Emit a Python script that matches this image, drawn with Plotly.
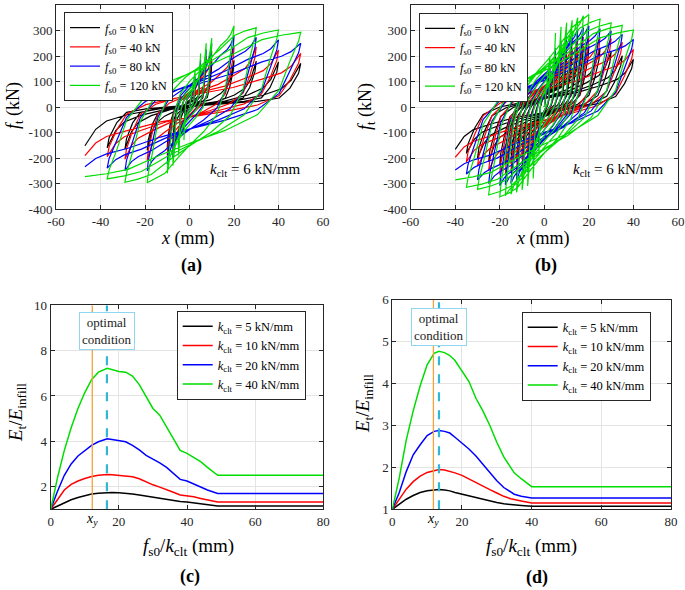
import plotly.graph_objects as go

# ---------------- Panel (a): cyclic test, peaks of each cycle ----------------
A_XP = [2.5, 5, 7.5, 10, 20, 30, 40, 50]
A_XN = [-2.5, -5, -7.5, -10, -19, -29, -37, -47]
A_FP_0 = [100, 150, 170, 180, 183, 180, 177, 171]
A_FP_40 = [110, 170, 200, 220, 236, 236, 223, 210]
A_FP_80 = [120, 185, 225, 250, 278, 273, 263, 250]
A_FP_120 = [140, 210, 250, 270, 318, 311, 302, 293]
A_FN_0 = [-90, -130, -150, -160, -170, -165, -160, -152]
A_FN_40 = [-100, -150, -175, -190, -210, -205, -195, -191]
A_FN_80 = [-110, -165, -200, -225, -250, -249, -240, -234]
A_FN_120 = [-130, -190, -230, -260, -297, -295, -282, -273]

# ---------------- Panel (b) ----------------
B_XP = [2.5, 5, 7.5, 10, 12.5, 15, 17.5, 20, 25, 30, 35, 40]
B_XN = [-2.5, -5, -7.5, -10, -12.5, -15, -17.5, -20, -25, -30, -35, -40]
B_FP_0 = [130, 175, 200, 215, 225, 232, 238, 240, 230, 217, 201, 187]
B_FP_40 = [150, 200, 230, 250, 262, 270, 275, 278, 275, 269, 254, 226]
B_FP_80 = [170, 230, 260, 280, 295, 305, 312, 318, 308, 298, 285, 265]
B_FP_120 = [200, 290, 315, 330, 340, 350, 358, 363, 345, 330, 320, 302]
B_FN_0 = [-120, -165, -190, -205, -215, -222, -226, -228, -215, -200, -182, -166]
B_FN_40 = [-140, -190, -220, -240, -250, -258, -262, -265, -250, -232, -215, -197]
B_FN_80 = [-160, -220, -255, -275, -290, -300, -305, -308, -300, -286, -263, -247]
B_FN_120 = [-190, -280, -310, -325, -335, -342, -348, -352, -345, -323, -315, -286]

FS0 = [0, 40, 80, 120]          # kN
K_CLT_AB = 6                     # kN/mm
FRICTION_W_A = [0.0, 0.4, 0.7, 1.0]
FRICTION_W_B = [0.3, 0.55, 0.8, 1.0]

# normalised loop branch shapes (pinched infill vs. friction-dominated)
LOOP_T = [0, 0.01, 0.05, 0.1, 0.2, 0.35, 0.5, 0.65, 0.8, 0.9, 0.95, 0.99, 1]
PINCH_S = [0, 0.12, 0.3, 0.42, 0.46, 0.49, 0.52, 0.55, 0.62, 0.70, 0.80, 0.95, 1]
SLIP_S = [0, 0.06, 0.2, 0.4, 0.57, 0.68, 0.76, 0.85, 0.95, 0.98, 0.99, 0.998, 1]

# ---------------- Panel (c) ----------------
C_X = [0, 2, 4, 6, 8, 10, 12, 14, 16.6, 18, 20, 22, 24, 26, 28, 30, 32, 34, 36, 38, 40, 42, 44, 46, 49, 80]
C_K5 = [1, 1.15, 1.3, 1.42, 1.52, 1.6, 1.67, 1.71, 1.74, 1.74, 1.73, 1.72, 1.68, 1.63, 1.58, 1.54, 1.5, 1.45, 1.4, 1.34, 1.32, 1.28, 1.25, 1.21, 1.15, 1.15]
C_K10 = [1, 1.45, 1.85, 2.1, 2.25, 2.36, 2.45, 2.5, 2.54, 2.52, 2.5, 2.48, 2.44, 2.35, 2.2, 2.08, 1.98, 1.88, 1.75, 1.63, 1.6, 1.55, 1.48, 1.42, 1.32, 1.32]
C_K20 = [1, 1.8, 2.5, 3.0, 3.35, 3.6, 3.82, 3.98, 4.11, 4.08, 4.04, 3.98, 3.82, 3.62, 3.38, 3.22, 3.05, 2.85, 2.6, 2.32, 2.25, 2.12, 1.98, 1.85, 1.7, 1.7]
C_K40 = [1, 2.4, 3.6, 4.6, 5.45, 6.15, 6.72, 7.05, 7.22, 7.15, 7.08, 7.05, 6.88, 6.5, 5.95, 5.45, 5.15, 4.65, 4.1, 3.6, 3.47, 3.3, 3.1, 2.85, 2.5, 2.5]
C_XY = 12.2
C_OPT = 16.5

# ---------------- Panel (d) ----------------
D_X = [0, 2, 4, 6, 8, 10, 12, 13.4, 15, 16.5, 18, 20, 22, 24, 26, 28, 30, 32, 34, 35, 37, 40, 80]
D_K5 = [1, 1.13, 1.24, 1.33, 1.4, 1.44, 1.46, 1.47, 1.46, 1.44, 1.4, 1.36, 1.31, 1.27, 1.23, 1.19, 1.16, 1.13, 1.11, 1.1, 1.09, 1.07, 1.07]
D_K10 = [1, 1.25, 1.48, 1.66, 1.79, 1.88, 1.93, 1.95, 1.94, 1.91, 1.87, 1.81, 1.72, 1.64, 1.56, 1.47, 1.39, 1.31, 1.25, 1.23, 1.2, 1.15, 1.15]
D_K20 = [1, 1.4, 1.9, 2.3, 2.54, 2.76, 2.86, 2.88, 2.86, 2.82, 2.72, 2.58, 2.44, 2.27, 2.07, 1.87, 1.68, 1.52, 1.4, 1.36, 1.31, 1.27, 1.27]
D_K40 = [1, 1.75, 2.65, 3.35, 3.95, 4.45, 4.72, 4.77, 4.74, 4.67, 4.55, 4.3, 4.05, 3.65, 3.35, 3.0, 2.6, 2.25, 2.0, 1.87, 1.73, 1.54, 1.54]
D_XY = 11.8
D_OPT = 13.4

K_CLT = [5, 10, 20, 40]
COLORS = ['#000000', '#ff0000', '#0000ff', '#00dd00']
FONT = 'Liberation Serif, Times New Roman, serif'
W, H = 685, 590


def branch(x0, f0, x1, f1, w):
    xs, ys = [], []
    for t, sp, sf in zip(LOOP_T[1:], PINCH_S[1:], SLIP_S[1:]):
        s = (1 - w) * sp + w * sf
        xs.append(x0 + t * (x1 - x0))
        ys.append(f0 + s * (f1 - f0))
    return xs, ys


def hysteresis(xp, xn, fp, fn, wmax, slip):
    xs, ys = [0.0, xp[0]], [0.0, fp[0]]
    px, pf = xp[0], fp[0]
    for i in range(len(xp)):
        if i > 0:
            w = wmax * min(1.0, abs(xp[i] - px) / slip)
            bx, by = branch(px, pf, xp[i], fp[i], w)
            xs += bx; ys += by
            px, pf = xp[i], fp[i]
        w = wmax * min(1.0, abs(xn[i] - px) / slip)
        bx, by = branch(px, pf, xn[i], fn[i], w)
        xs += bx; ys += by
        px, pf = xn[i], fn[i]
    return xs, ys


fig = go.Figure()

A_FP = [A_FP_0, A_FP_40, A_FP_80, A_FP_120]
A_FN = [A_FN_0, A_FN_40, A_FN_80, A_FN_120]
B_FP = [B_FP_0, B_FP_40, B_FP_80, B_FP_120]
B_FN = [B_FN_0, B_FN_40, B_FN_80, B_FN_120]

for k in range(4):
    slip = max(2 * FS0[k] / K_CLT_AB, 1.0)
    name = f'<i>f</i><sub>s0</sub> = {FS0[k]} kN'
    x, y = hysteresis(A_XP, A_XN, A_FP[k], A_FN[k], FRICTION_W_A[k], slip)
    fig.add_trace(go.Scatter(x=x, y=y, mode='lines', name=name,
                             line=dict(color=COLORS[k], width=1.2),
                             xaxis='x', yaxis='y', legend='legend'))
for k in range(4):
    slip = max(2 * FS0[k] / K_CLT_AB, 1.0)
    name = f'<i>f</i><sub>s0</sub> = {FS0[k]} kN'
    x, y = hysteresis(B_XP, B_XN, B_FP[k], B_FN[k], FRICTION_W_B[k], slip)
    fig.add_trace(go.Scatter(x=x, y=y, mode='lines', name=name,
                             line=dict(color=COLORS[k], width=1.2),
                             xaxis='x2', yaxis='y2', legend='legend2'))

C_Y = [C_K5, C_K10, C_K20, C_K40]
D_Y = [D_K5, D_K10, D_K20, D_K40]
for k in range(4):
    name = f'<i>k</i><sub>clt</sub> = {K_CLT[k]} kN/mm'
    fig.add_trace(go.Scatter(x=C_X, y=C_Y[k], mode='lines', name=name,
                             line=dict(color=COLORS[k], width=1.5),
                             xaxis='x3', yaxis='y3', legend='legend3'))
for k in range(4):
    name = f'<i>k</i><sub>clt</sub> = {K_CLT[k]} kN/mm'
    fig.add_trace(go.Scatter(x=D_X, y=D_Y[k], mode='lines', name=name,
                             line=dict(color=COLORS[k], width=1.5),
                             xaxis='x4', yaxis='y4', legend='legend4'))

# vertical reference lines
for xa, ya, xy, xo, ytop in [('x3', 'y3', C_XY, C_OPT, 10), ('x4', 'y4', D_XY, D_OPT, 6)]:
    fig.add_trace(go.Scatter(x=[xy, xy], y=[1, ytop], mode='lines', showlegend=False,
                             line=dict(color='#f2a43a', width=1.3), xaxis=xa, yaxis=ya))
    fig.add_trace(go.Scatter(x=[xo, xo], y=[1, ytop], mode='lines', showlegend=False,
                             line=dict(color='#33b5d6', width=2.2, dash='dash'), xaxis=xa, yaxis=ya))


def px_x(v):
    return v / W


def px_y(v):
    return 1 - v / H


def axis(domain, rng, tickvals, anchor, ticktext=None):
    d = dict(domain=domain, range=rng, tickvals=tickvals, anchor=anchor,
             showgrid=True, gridcolor='#e4e4e4', gridwidth=1, zeroline=False,
             showline=True, linecolor='#262626', linewidth=1, mirror='ticks',
             ticks='inside', ticklen=4, tickcolor='#262626', automargin=False,
             tickfont=dict(family=FONT, size=13, color='#262626'), fixedrange=True)
    if ticktext is not None:
        d['ticktext'] = ticktext
    return d


ab_xt = [-60, -40, -20, 0, 20, 40, 60]
ab_yt = [-400, -300, -200, -100, 0, 100, 200, 300, 400]
ab_xtt = [str(v) for v in ab_xt]
ab_ytt = [str(v) for v in ab_yt]

legend_common = dict(xanchor='left', yanchor='top', bgcolor='white',
                     bordercolor='#262626', borderwidth=1,
                     font=dict(family=FONT, size=12.5, color='black'),
                     itemwidth=30, tracegroupgap=0)

fig.update_layout(
    width=W, height=H, margin=dict(l=0, r=0, t=0, b=0, autoexpand=False),
    paper_bgcolor='white', plot_bgcolor='white',
    xaxis=axis([px_x(56), px_x(323)], [-60, 60], ab_xt, 'y', ab_xtt),
    yaxis=axis([px_y(209), px_y(5)], [-400, 400], ab_yt, 'x', ab_ytt),
    xaxis2=axis([px_x(410.7), px_x(678)], [-60, 60], ab_xt, 'y2', ab_xtt),
    yaxis2=axis([px_y(209), px_y(5)], [-400, 400], ab_yt, 'x2', ab_ytt),
    xaxis3=axis([px_x(50.7), px_x(323.3)], [0, 80], [0, 20, 40, 60, 80], 'y3'),
    yaxis3=axis([px_y(509.3), px_y(305.3)], [1, 10], [2, 4, 6, 8, 10], 'x3'),
    xaxis4=axis([px_x(392.3), px_x(671)], [0, 80], [0, 20, 40, 60, 80], 'y4'),
    yaxis4=axis([px_y(509.3), px_y(299.8)], [1, 6], [1, 2, 3, 4, 5, 6], 'x4'),
    legend=dict(x=px_x(64), y=px_y(12), **legend_common),
    legend2=dict(x=px_x(419), y=px_y(12.7), **legend_common),
    legend3=dict(x=px_x(176.7), y=px_y(310.7), **legend_common),
    legend4=dict(x=px_x(521.7), y=px_y(311.7), **legend_common),
    showlegend=True,
)

ann = []


def label(text, x, y, size=17, angle=0, bold=False):
    ann.append(dict(text=f'<b>{text}</b>' if bold else text, x=px_x(x), y=px_y(y),
                    xref='paper', yref='paper', showarrow=False, textangle=angle,
                    xanchor='center', yanchor='middle',
                    font=dict(family=FONT, size=size, color='black')))


label('<i>f</i><sub>t</sub> (kN)', 14, 106, size=18, angle=-90)
label('<i>f</i><sub>t</sub> (kN)', 366, 106, size=18, angle=-90)
label('<i>x</i> (mm)', 188, 238, size=18)
label('<i>x</i> (mm)', 543, 238, size=18)
label('(a)', 191, 265, size=18, bold=True)
label('(b)', 546, 265, size=18, bold=True)
label('<i>E</i><sub>t</sub>/<i>E</i><sub>infill</sub>', 17, 413, size=19, angle=-90)
label('<i>E</i><sub>t</sub>/<i>E</i><sub>infill</sub>', 364, 404, size=19, angle=-90)
label('<i>f</i><sub>s0</sub>/<i>k</i><sub>clt</sub> (mm)', 188, 547, size=19)
label('<i>f</i><sub>s0</sub>/<i>k</i><sub>clt</sub> (mm)', 531, 547, size=19)
label('(c)', 190, 576, size=18, bold=True)
label('(d)', 537, 577, size=18, bold=True)
label('<i>k</i><sub>clt</sub> = 6 kN/mm', 256, 170, size=15)
label('<i>k</i><sub>clt</sub> = 6 kN/mm', 618, 170, size=15)

# x_y labels under the axis
for xa, xv, xpx0, xpx1 in [('x3', C_XY, 50.7, 323.3), ('x4', D_XY, 392.3, 671)]:
    xp_ = xpx0 + xv / 80 * (xpx1 - xpx0)
    label('<i>x</i><sub><i>y</i></sub>', xp_, 519, size=14)

# optimal condition boxes
for xa, ya, xv, yv in [('x3', 'y3', C_OPT, 8.87), ('x4', 'y4', D_OPT, 5.36)]:
    ann.append(dict(text='optimal<br>condition', x=xv, y=yv, xref=xa, yref=ya,
                    showarrow=False, xanchor='center', yanchor='middle',
                    bgcolor='white', bordercolor='#8fd6ee', borderwidth=1, borderpad=2,
                    font=dict(family=FONT, size=13, color='#222222')))

fig.update_layout(annotations=ann)
fig.write_html('out.html', config={'displayModeBar': False},
               post_script="document.body.style.margin='0';document.body.style.padding='0';")
